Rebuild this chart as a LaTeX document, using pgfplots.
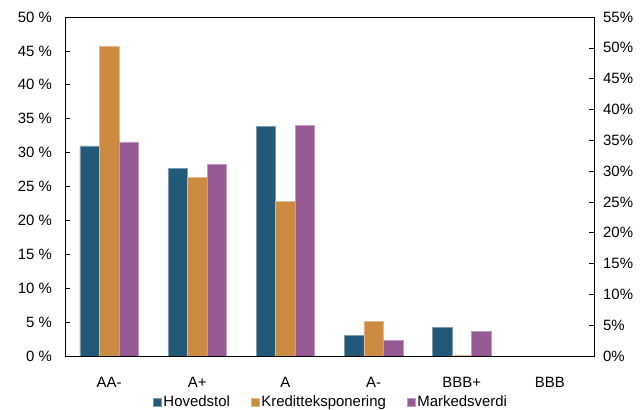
\documentclass[border=0pt]{standalone}
\usepackage{fontspec}
\setmainfont{Liberation Sans}
\usepackage{pgfplots}
\pgfplotsset{compat=1.18}
\definecolor{cblue}{RGB}{34,89,120}
\definecolor{corange}{RGB}{205,139,66}
\definecolor{cpurple}{RGB}{149,90,148}
\begin{document}
\fontsize{15}{18}\selectfont
\begin{tikzpicture}
\useasboundingbox (-65bp,-54bp) rectangle (577bp,356bp);
\begin{axis}[
  at={(0,0)}, anchor=south west, scale only axis,
  width=529bp, height=339bp,
  axis on top,
  ybar=0pt, bar width=19.5bp,
  xmin=-0.5, xmax=5.5,
  xtick={0,...,5}, xticklabels={AA-,A+,A,A-,BBB+,BBB},
  x tick style={draw=none},
  ymin=0, ymax=50, ytick={0,5,...,50}, ytick pos=left,
  yticklabel={\pgfmathprintnumber{\tick}~\%},
  /pgf/number format/assume math mode=true,
  ticklabel style={font=\fontsize{15}{18}\selectfont},
  tick align=inside, major tick length=5bp,
  ytick style={black, line width=0.6bp},
  y tick label style={xshift=-8bp},
  x tick label style={yshift=-16bp},
  axis line style={black, line width=0.8bp},
  legend style={at={(0.502,-0.137)}, anchor=center, draw=none, fill=none,
    legend columns=3, font=\fontsize{15}{18}\selectfont,
    nodes={inner sep=1bp},
    /tikz/every odd column/.append style={column sep=1bp},
    /tikz/every even column/.append style={column sep=20bp}},
  legend image code/.code={\fill[#1] (0bp,-4bp) rectangle (8bp,4bp);},
]
\addplot[fill=cblue, draw=cblue!60!white, line width=0.4bp] coordinates {(0,31.0) (1,27.7) (2,33.9) (3,3.05) (4,4.2) (5,0)};
\addplot[fill=corange, draw=corange!60!white, line width=0.4bp] coordinates {(0,45.7) (1,26.4) (2,22.8) (3,5.06) (4,0.1) (5,0)};
\addplot[fill=cpurple, draw=cpurple!60!white, line width=0.4bp] coordinates {(0,31.6) (1,28.3) (2,34.0) (3,2.3) (4,3.6) (5,0)};
\legend{Hovedstol, Kreditteksponering, Markedsverdi}
\end{axis}
\begin{axis}[
  at={(0,0)}, anchor=south west, scale only axis,
  width=529bp, height=339bp,
  xmin=-0.5, xmax=5.5,
  axis x line=none, axis y line*=right,
  ymin=0, ymax=55, ytick={0,5,...,55},
  yticklabel={\pgfmathprintnumber{\tick}\%},
  /pgf/number format/assume math mode=true,
  ticklabel style={font=\fontsize{15}{18}\selectfont},
  tick align=inside, major tick length=5bp,
  ytick style={black, line width=0.6bp},
  y tick label style={xshift=4bp},
  axis line style={black, line width=0.7bp},
]
\end{axis}
\node[anchor=base east, font=\fontsize{16}{19}\selectfont] at (110bp,359bp) {Ratingfordeling};
\end{tikzpicture}
\end{document}
